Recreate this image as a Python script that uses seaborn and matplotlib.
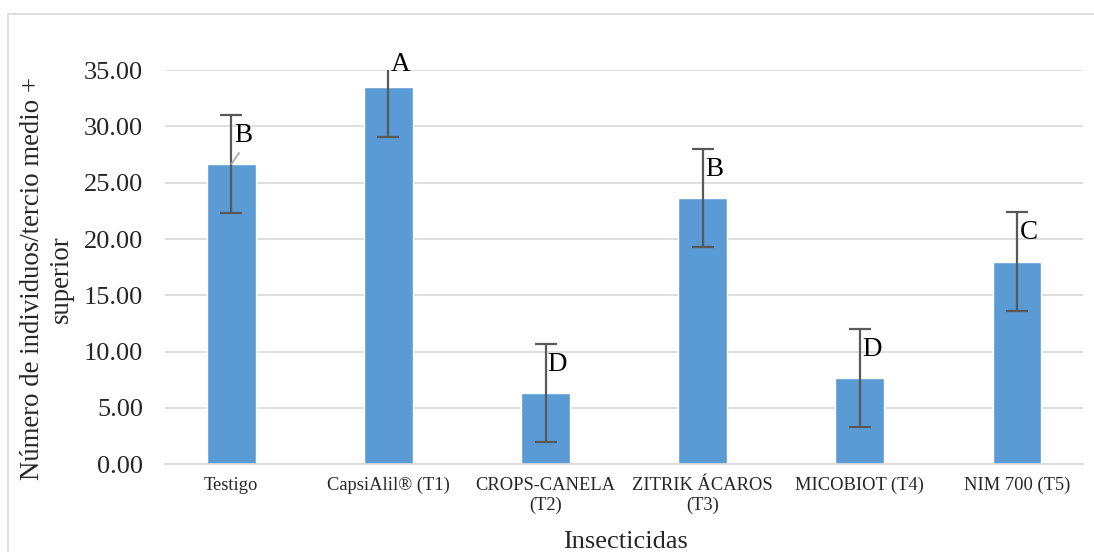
import numpy as np
import pandas as pd
import matplotlib.pyplot as plt
import seaborn as sns
from matplotlib.patches import Rectangle

# Data
categories = ["Testigo", "CapsiAlil® (T1)", "CROPS-CANELA\n(T2)", "ZITRIK ÁCAROS\n(T3)",
              "MICOBIOT (T4)", "NIM 700 (T5)"]
means = [26.65, 33.5, 6.30, 23.65, 7.65, 18.00]
errors = [4.35, 4.40, 4.35, 4.35, 4.35, 4.38]
letters = ["B", "A", "D", "B", "D", "C"]

df = pd.DataFrame({"Insecticidas": categories, "valor": means})

sns.set_style("white")
plt.rcParams["font.family"] = ["Liberation Serif", "DejaVu Serif"]

fig = plt.figure(figsize=(10.94, 5.52), dpi=100)
ax = fig.add_axes([0.151, 0.159, 0.839, 0.714])

sns.barplot(data=df, x="Insecticidas", y="valor", color="#5b9bd5",
            width=0.31, saturation=1, ax=ax, zorder=2)
xpos = np.arange(len(categories))
ax.errorbar(xpos, means, yerr=errors, fmt="none", ecolor="#595959",
            elinewidth=1.6, capsize=8, capthick=1.6, zorder=3)

# significance letters
for i, (m, e, l) in enumerate(zip(means, errors, letters)):
    ax.text(i + 0.075, min(m + e - 1.8, 35.5), l, ha="center", va="center",
            fontsize=19.5, color="black", zorder=4, clip_on=False)
# leader line for first label
ax.plot([0.0, 0.05], [means[0], means[0] + 1.0], color="#a6a6a6", lw=1.2, zorder=4)

ax.set_ylim(0, 35)
ax.set_yticks(np.arange(0, 36, 5))
ax.set_yticklabels([f"{v:.2f}" for v in np.arange(0, 36, 5)], fontsize=19)
ax.set_xticks(xpos)
ax.set_xticklabels(categories, fontsize=13.3, linespacing=1.2)
ax.tick_params(axis="x", length=0, pad=9)
ax.tick_params(axis="y", length=0, pad=16)
ax.yaxis.grid(True, color="#d9d9d9", lw=1.2, zorder=0)
ax.set_axisbelow(True)
for s in ["top", "right", "left"]:
    ax.spines[s].set_visible(False)
ax.spines["bottom"].set_color("#d9d9d9")
ax.spines["bottom"].set_linewidth(1.2)

ax.set_xlabel("Insecticidas", fontsize=19, va="center")
ax.xaxis.set_label_coords(0.501, -0.198)
ax.set_ylabel("Número de individuos/tercio medio +\nsuperior", fontsize=19.3, linespacing=1.25)
ax.yaxis.set_label_coords(-0.099, 0.47)

fig.patches.append(Rectangle((8 / 1094, -0.1), 1.2, 1 - 14 / 552 + 0.1,
                             transform=fig.transFigure, fill=False,
                             edgecolor="#d9d9d9", lw=1.2))

fig.savefig("out.png", dpi=100)
